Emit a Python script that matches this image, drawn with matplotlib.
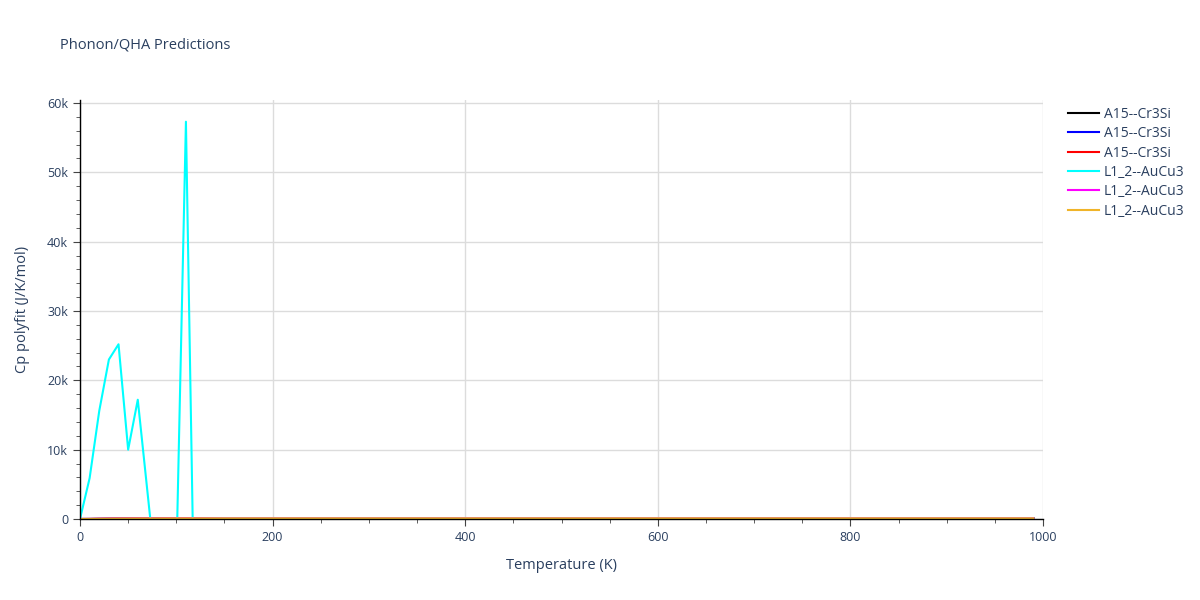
import matplotlib
import matplotlib.pyplot as plt
import matplotlib.ticker as tkr
import numpy as np

plt.switch_backend('agg')
plt.rcParams['font.family'] = ['Open Sans', 'DejaVu Sans']

# cyan curve (L1_2--AuCu3)
t_cyan = [0, 10, 20, 30, 40, 50, 60, 73, 101, 110, 117, 150, 200, 300, 400, 500, 600, 700, 800, 900, 990]
cp_cyan = [0, 5900, 15600, 23000, 25200, 10000, 17200, 0, 0, 57300, 0, 95, 97, 98, 99, 99, 100, 100, 100, 100, 100]

# the other curves sit on the zero line at this scale
t_flat = [0, 10, 20, 40, 60, 100, 150, 200, 300, 400, 500, 600, 700, 800, 900, 990]
cp_black = [0, 5, 20, 48, 65, 82, 90, 94, 97, 98, 99, 99, 100, 100, 100, 100]
cp_blue = [0, 5, 20, 48, 65, 82, 90, 94, 97, 98, 99, 99, 100, 100, 100, 100]
cp_red = [0, 5, 20, 48, 65, 82, 90, 94, 97, 98, 99, 99, 100, 100, 100, 100]
cp_magenta = [0, 8, 30, 60, 75, 88, 93, 96, 98, 99, 99, 100, 100, 100, 100, 100]
cp_yellow = [0, 8, 30, 60, 75, 88, 93, 96, 98, 99, 99, 100, 100, 100, 100, 100]

labels = ['A15--Cr3Si', 'A15--Cr3Si', 'A15--Cr3Si', 'L1_2--AuCu3', 'L1_2--AuCu3', 'L1_2--AuCu3']
colors = ['black', 'blue', 'red', 'cyan', 'magenta', '#f0b429']

txt = '#2a3f5f'

fig = plt.figure(figsize=(12, 6), dpi=100)
ax = fig.add_axes([80 / 1200, 81 / 600, 963 / 1200, 419 / 600])

series = [(t_flat, cp_black), (t_flat, cp_blue), (t_flat, cp_red),
          (t_cyan, cp_cyan), (t_flat, cp_magenta), (t_flat, cp_yellow)]
for (t, cp), lab, col in zip(series, labels, colors):
    ax.plot(t, cp, color=col, lw=1.5, label=lab, zorder=3)

ax.set_xlim(0, 1000)
ax.set_ylim(0, 60430)

ax.xaxis.set_major_locator(tkr.MultipleLocator(200))
ax.xaxis.set_minor_locator(tkr.MultipleLocator(50))
ax.yaxis.set_major_locator(tkr.MultipleLocator(10000))
ax.yaxis.set_minor_locator(tkr.MultipleLocator(2000))
ax.yaxis.set_major_formatter(tkr.FuncFormatter(lambda v, p: '0' if v == 0 else '%dk' % (v / 1000)))

ax.grid(True, which='major', color='#dcdcdc', lw=1, zorder=0)
for s in ['top', 'right']:
    ax.spines[s].set_visible(False)
for s in ['left', 'bottom']:
    ax.spines[s].set_color('black')
    ax.spines[s].set_linewidth(1)
    ax.spines[s].set_zorder(4)

ax.tick_params(which='major', length=5, color='#444444', labelcolor=txt, labelsize=9)
ax.tick_params(which='minor', length=3, color='#444444')

ax.set_xlabel('Temperature (K)', color=txt, fontsize=10.5, labelpad=10)
ax.set_ylabel('Cp polyfit (J/K/mol)', color=txt, fontsize=10.5, labelpad=12)
fig.text(60 / 1200, 1 - 45 / 600, 'Phonon/QHA Predictions', color=txt, fontsize=10.5, va='center')

leg = fig.legend(loc='upper left', bbox_to_anchor=(1068 / 1200, 1 - 107 / 600), frameon=False,
                 fontsize=10, handlelength=2.2, handletextpad=0.4, labelspacing=0.31,
                 borderpad=0, borderaxespad=0)
for t in leg.get_texts():
    t.set_color(txt)

plt.savefig('out.png', dpi=100)
plt.close()
